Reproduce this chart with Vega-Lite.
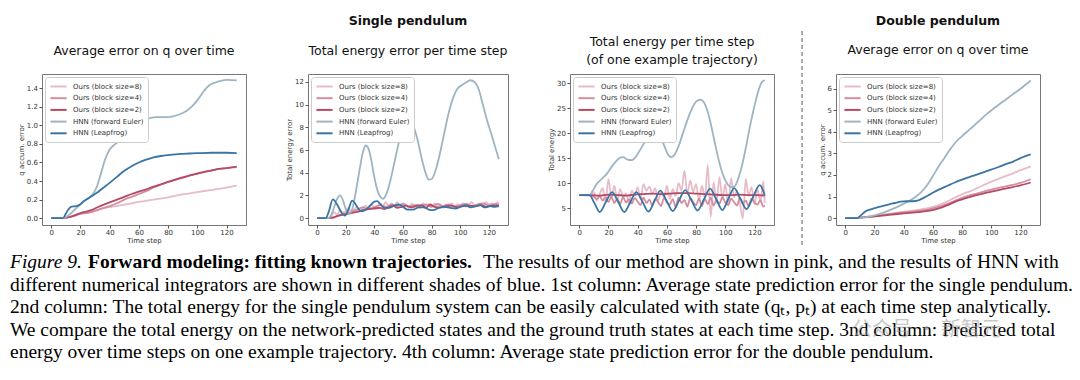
{
"$schema": "https://vega.github.io/schema/vega-lite/v6.json",
"background": "white",
"padding": {"left": 10, "top": 14, "right": 0, "bottom": 0},
"config": {
 "view": {"stroke": "#777777", "strokeWidth": 1},
 "font": "DejaVu Sans",
 "title": {"font": "DejaVu Sans", "fontSize": 12.5, "fontWeight": "normal", "color": "#111111", "anchor": "middle", "subtitleFont": "DejaVu Sans", "subtitleFontSize": 12.5, "subtitleColor": "#111111", "subtitleFontWeight": "normal"},
 "axis": {"labelFont": "DejaVu Sans", "labelFontSize": 7, "labelColor": "#333333", "titleFont": "DejaVu Sans", "titleFontSize": 7, "titleFontWeight": "normal", "titleColor": "#333333", "tickColor": "#555555", "tickSize": 3, "domain": false, "grid": false, "labelPadding": 1.5, "titlePadding": 2},
 "axisX": {"labelPadding": 0.5, "titlePadding": 1},
 "legend": {"orient": "top-left", "offset": 3, "padding": 4, "strokeColor": "#cccccc", "fillColor": "white", "cornerRadius": 3, "labelFont": "DejaVu Sans", "labelFontSize": 7, "labelColor": "#333333", "symbolType": "M-1.8,0H1.8", "symbolSize": 81, "symbolStrokeWidth": 2, "symbolOffset": 4, "rowPadding": 1.7, "labelOffset": 9}
},
"datasets": {
 "p1": [
  {"t":0,"v":0,"s":"a"},{"t":8,"v":0,"s":"a"},{"t":12,"v":0.01,"s":"a"},{"t":16,"v":0.03,"s":"a"},{"t":20,"v":0.05,"s":"a"},{"t":25,"v":0.07,"s":"a"},{"t":30,"v":0.085,"s":"a"},{"t":35,"v":0.105,"s":"a"},{"t":40,"v":0.12,"s":"a"},{"t":50,"v":0.145,"s":"a"},{"t":60,"v":0.175,"s":"a"},{"t":70,"v":0.2,"s":"a"},{"t":80,"v":0.225,"s":"a"},{"t":90,"v":0.255,"s":"a"},{"t":100,"v":0.28,"s":"a"},{"t":110,"v":0.305,"s":"a"},{"t":120,"v":0.33,"s":"a"},{"t":127,"v":0.35,"s":"a"},
  {"t":0,"v":0,"s":"b"},{"t":8,"v":0,"s":"b"},{"t":12,"v":0.01,"s":"b"},{"t":16,"v":0.025,"s":"b"},{"t":20,"v":0.045,"s":"b"},{"t":24,"v":0.055,"s":"b"},{"t":28,"v":0.065,"s":"b"},{"t":32,"v":0.09,"s":"b"},{"t":36,"v":0.11,"s":"b"},{"t":40,"v":0.13,"s":"b"},{"t":45,"v":0.16,"s":"b"},{"t":50,"v":0.2,"s":"b"},{"t":55,"v":0.23,"s":"b"},{"t":60,"v":0.26,"s":"b"},{"t":65,"v":0.29,"s":"b"},{"t":70,"v":0.33,"s":"b"},{"t":75,"v":0.36,"s":"b"},{"t":80,"v":0.39,"s":"b"},{"t":85,"v":0.415,"s":"b"},{"t":90,"v":0.435,"s":"b"},{"t":95,"v":0.46,"s":"b"},{"t":100,"v":0.48,"s":"b"},{"t":105,"v":0.5,"s":"b"},{"t":110,"v":0.515,"s":"b"},{"t":115,"v":0.53,"s":"b"},{"t":120,"v":0.54,"s":"b"},{"t":127,"v":0.55,"s":"b"},
  {"t":0,"v":0,"s":"c"},{"t":8,"v":0,"s":"c"},{"t":12,"v":0.01,"s":"c"},{"t":16,"v":0.03,"s":"c"},{"t":20,"v":0.055,"s":"c"},{"t":24,"v":0.07,"s":"c"},{"t":28,"v":0.09,"s":"c"},{"t":32,"v":0.12,"s":"c"},{"t":36,"v":0.145,"s":"c"},{"t":40,"v":0.17,"s":"c"},{"t":45,"v":0.2,"s":"c"},{"t":50,"v":0.23,"s":"c"},{"t":55,"v":0.26,"s":"c"},{"t":60,"v":0.285,"s":"c"},{"t":65,"v":0.31,"s":"c"},{"t":70,"v":0.34,"s":"c"},{"t":75,"v":0.365,"s":"c"},{"t":80,"v":0.39,"s":"c"},{"t":85,"v":0.415,"s":"c"},{"t":90,"v":0.44,"s":"c"},{"t":95,"v":0.46,"s":"c"},{"t":100,"v":0.48,"s":"c"},{"t":105,"v":0.5,"s":"c"},{"t":110,"v":0.515,"s":"c"},{"t":115,"v":0.53,"s":"c"},{"t":120,"v":0.54,"s":"c"},{"t":127,"v":0.555,"s":"c"},
  {"t":0,"v":0,"s":"d"},{"t":8,"v":0,"s":"d"},{"t":12,"v":0.03,"s":"d"},{"t":16,"v":0.09,"s":"d"},{"t":20,"v":0.15,"s":"d"},{"t":24,"v":0.2,"s":"d"},{"t":28,"v":0.25,"s":"d"},{"t":31,"v":0.33,"s":"d"},{"t":34,"v":0.48,"s":"d"},{"t":37,"v":0.64,"s":"d"},{"t":40,"v":0.74,"s":"d"},{"t":44,"v":0.8,"s":"d"},{"t":48,"v":0.85,"s":"d"},{"t":52,"v":0.9,"s":"d"},{"t":56,"v":0.95,"s":"d"},{"t":60,"v":1.0,"s":"d"},{"t":64,"v":1.05,"s":"d"},{"t":68,"v":1.08,"s":"d"},{"t":72,"v":1.09,"s":"d"},{"t":76,"v":1.09,"s":"d"},{"t":80,"v":1.09,"s":"d"},{"t":84,"v":1.1,"s":"d"},{"t":88,"v":1.12,"s":"d"},{"t":92,"v":1.15,"s":"d"},{"t":96,"v":1.2,"s":"d"},{"t":100,"v":1.27,"s":"d"},{"t":104,"v":1.36,"s":"d"},{"t":108,"v":1.43,"s":"d"},{"t":112,"v":1.46,"s":"d"},{"t":116,"v":1.48,"s":"d"},{"t":120,"v":1.49,"s":"d"},{"t":127,"v":1.485,"s":"d"},
  {"t":0,"v":0,"s":"e"},{"t":8,"v":0,"s":"e"},{"t":10,"v":0.05,"s":"e"},{"t":12,"v":0.1,"s":"e"},{"t":14,"v":0.125,"s":"e"},{"t":17,"v":0.13,"s":"e"},{"t":19,"v":0.14,"s":"e"},{"t":22,"v":0.18,"s":"e"},{"t":25,"v":0.21,"s":"e"},{"t":28,"v":0.24,"s":"e"},{"t":31,"v":0.27,"s":"e"},{"t":35,"v":0.32,"s":"e"},{"t":40,"v":0.38,"s":"e"},{"t":45,"v":0.445,"s":"e"},{"t":50,"v":0.51,"s":"e"},{"t":55,"v":0.56,"s":"e"},{"t":60,"v":0.6,"s":"e"},{"t":65,"v":0.63,"s":"e"},{"t":70,"v":0.655,"s":"e"},{"t":75,"v":0.67,"s":"e"},{"t":80,"v":0.68,"s":"e"},{"t":85,"v":0.688,"s":"e"},{"t":90,"v":0.693,"s":"e"},{"t":95,"v":0.697,"s":"e"},{"t":100,"v":0.7,"s":"e"},{"t":110,"v":0.705,"s":"e"},{"t":120,"v":0.705,"s":"e"},{"t":127,"v":0.7,"s":"e"}
 ],
 "p2": [
  {"t":0,"v":0,"s":"a"},{"t":8,"v":0,"s":"a"},{"t":10,"v":0.2,"s":"a"},{"t":12,"v":0.5,"s":"a"},{"t":14,"v":0.3,"s":"a"},{"t":16,"v":0.7,"s":"a"},{"t":18,"v":0.5,"s":"a"},{"t":20,"v":0.6,"s":"a"},{"t":22,"v":0.9,"s":"a"},{"t":24,"v":0.5,"s":"a"},{"t":26,"v":0.8,"s":"a"},{"t":28,"v":1.0,"s":"a"},{"t":30,"v":0.6,"s":"a"},{"t":32,"v":0.9,"s":"a"},{"t":34,"v":1.1,"s":"a"},{"t":36,"v":0.8,"s":"a"},{"t":38,"v":1.2,"s":"a"},{"t":40,"v":1.0,"s":"a"},{"t":42,"v":0.9,"s":"a"},{"t":44,"v":1.3,"s":"a"},{"t":46,"v":1.1,"s":"a"},{"t":48,"v":1.4,"s":"a"},{"t":50,"v":1.0,"s":"a"},{"t":52,"v":1.3,"s":"a"},{"t":54,"v":1.1,"s":"a"},{"t":56,"v":1.4,"s":"a"},{"t":58,"v":1.0,"s":"a"},{"t":60,"v":1.3,"s":"a"},{"t":62,"v":1.2,"s":"a"},{"t":64,"v":0.9,"s":"a"},{"t":66,"v":1.3,"s":"a"},{"t":68,"v":1.1,"s":"a"},{"t":70,"v":1.2,"s":"a"},{"t":72,"v":0.9,"s":"a"},{"t":74,"v":1.3,"s":"a"},{"t":76,"v":1.1,"s":"a"},{"t":78,"v":1.2,"s":"a"},{"t":80,"v":1.0,"s":"a"},{"t":82,"v":1.3,"s":"a"},{"t":84,"v":1.1,"s":"a"},{"t":86,"v":1.2,"s":"a"},{"t":88,"v":0.9,"s":"a"},{"t":90,"v":1.2,"s":"a"},{"t":92,"v":1.1,"s":"a"},{"t":94,"v":1.3,"s":"a"},{"t":96,"v":1.0,"s":"a"},{"t":98,"v":1.2,"s":"a"},{"t":100,"v":1.1,"s":"a"},{"t":102,"v":1.3,"s":"a"},{"t":104,"v":1.0,"s":"a"},{"t":106,"v":1.2,"s":"a"},{"t":108,"v":1.4,"s":"a"},{"t":110,"v":1.1,"s":"a"},{"t":112,"v":1.2,"s":"a"},{"t":114,"v":1.3,"s":"a"},{"t":116,"v":1.1,"s":"a"},{"t":118,"v":1.4,"s":"a"},{"t":120,"v":1.2,"s":"a"},{"t":122,"v":1.3,"s":"a"},{"t":124,"v":1.1,"s":"a"},{"t":126,"v":1.4,"s":"a"},{"t":127,"v":1.2,"s":"a"},
  {"t":0,"v":0,"s":"b"},{"t":8,"v":0,"s":"b"},{"t":12,"v":0.05,"s":"b"},{"t":16,"v":0.3,"s":"b"},{"t":20,"v":0.4,"s":"b"},{"t":24,"v":0.55,"s":"b"},{"t":28,"v":0.75,"s":"b"},{"t":32,"v":0.95,"s":"b"},{"t":36,"v":0.8,"s":"b"},{"t":40,"v":0.95,"s":"b"},{"t":44,"v":1.15,"s":"b"},{"t":48,"v":1.0,"s":"b"},{"t":52,"v":1.2,"s":"b"},{"t":56,"v":1.05,"s":"b"},{"t":60,"v":1.25,"s":"b"},{"t":64,"v":1.0,"s":"b"},{"t":68,"v":1.15,"s":"b"},{"t":72,"v":1.05,"s":"b"},{"t":76,"v":1.2,"s":"b"},{"t":80,"v":1.0,"s":"b"},{"t":84,"v":1.25,"s":"b"},{"t":88,"v":1.05,"s":"b"},{"t":92,"v":1.2,"s":"b"},{"t":96,"v":1.0,"s":"b"},{"t":100,"v":1.15,"s":"b"},{"t":104,"v":1.25,"s":"b"},{"t":108,"v":1.05,"s":"b"},{"t":112,"v":1.2,"s":"b"},{"t":116,"v":1.3,"s":"b"},{"t":120,"v":1.1,"s":"b"},{"t":124,"v":1.25,"s":"b"},{"t":127,"v":1.2,"s":"b"},
  {"t":0,"v":0,"s":"c"},{"t":8,"v":0,"s":"c"},{"t":12,"v":0.1,"s":"c"},{"t":16,"v":0.25,"s":"c"},{"t":20,"v":0.35,"s":"c"},{"t":24,"v":0.45,"s":"c"},{"t":28,"v":0.55,"s":"c"},{"t":32,"v":0.7,"s":"c"},{"t":36,"v":0.8,"s":"c"},{"t":40,"v":0.85,"s":"c"},{"t":44,"v":0.9,"s":"c"},{"t":47,"v":0.8,"s":"c"},{"t":50,"v":0.95,"s":"c"},{"t":53,"v":1.1,"s":"c"},{"t":56,"v":0.9,"s":"c"},{"t":59,"v":1.0,"s":"c"},{"t":62,"v":1.1,"s":"c"},{"t":66,"v":0.95,"s":"c"},{"t":70,"v":1.1,"s":"c"},{"t":73,"v":1.15,"s":"c"},{"t":76,"v":0.9,"s":"c"},{"t":79,"v":1.2,"s":"c"},{"t":82,"v":1.0,"s":"c"},{"t":86,"v":0.95,"s":"c"},{"t":90,"v":1.05,"s":"c"},{"t":94,"v":1.1,"s":"c"},{"t":98,"v":0.95,"s":"c"},{"t":102,"v":1.05,"s":"c"},{"t":106,"v":1.1,"s":"c"},{"t":110,"v":1.05,"s":"c"},{"t":114,"v":1.15,"s":"c"},{"t":118,"v":1.0,"s":"c"},{"t":122,"v":1.1,"s":"c"},{"t":127,"v":1.1,"s":"c"},
  {"t":0,"v":0,"s":"d"},{"t":8,"v":0,"s":"d"},{"t":10,"v":0.3,"s":"d"},{"t":12,"v":1.0,"s":"d"},{"t":14,"v":1.7,"s":"d"},{"t":16,"v":2.0,"s":"d"},{"t":18,"v":1.6,"s":"d"},{"t":20,"v":0.8,"s":"d"},{"t":22,"v":0.35,"s":"d"},{"t":24,"v":0.6,"s":"d"},{"t":26,"v":1.6,"s":"d"},{"t":28,"v":3.0,"s":"d"},{"t":30,"v":4.5,"s":"d"},{"t":32,"v":5.8,"s":"d"},{"t":34,"v":6.4,"s":"d"},{"t":36,"v":6.1,"s":"d"},{"t":38,"v":5.0,"s":"d"},{"t":40,"v":3.6,"s":"d"},{"t":42,"v":2.5,"s":"d"},{"t":44,"v":1.9,"s":"d"},{"t":46,"v":1.7,"s":"d"},{"t":48,"v":2.0,"s":"d"},{"t":51,"v":3.2,"s":"d"},{"t":54,"v":4.9,"s":"d"},{"t":57,"v":6.6,"s":"d"},{"t":60,"v":7.8,"s":"d"},{"t":63,"v":8.5,"s":"d"},{"t":65,"v":8.55,"s":"d"},{"t":67,"v":8.2,"s":"d"},{"t":70,"v":7.0,"s":"d"},{"t":73,"v":5.3,"s":"d"},{"t":76,"v":3.9,"s":"d"},{"t":78,"v":3.4,"s":"d"},{"t":80,"v":3.45,"s":"d"},{"t":83,"v":4.3,"s":"d"},{"t":86,"v":5.8,"s":"d"},{"t":89,"v":7.6,"s":"d"},{"t":92,"v":9.3,"s":"d"},{"t":95,"v":10.6,"s":"d"},{"t":98,"v":11.4,"s":"d"},{"t":101,"v":11.7,"s":"d"},{"t":104,"v":11.95,"s":"d"},{"t":107,"v":12.15,"s":"d"},{"t":110,"v":12.0,"s":"d"},{"t":113,"v":11.3,"s":"d"},{"t":116,"v":9.9,"s":"d"},{"t":119,"v":8.5,"s":"d"},{"t":122,"v":7.3,"s":"d"},{"t":125,"v":6.0,"s":"d"},{"t":127,"v":5.2,"s":"d"},
  {"t":0,"v":0,"s":"e"},{"t":6,"v":0,"s":"e"},{"t":8,"v":0.5,"s":"e"},{"t":11,"v":1.65,"s":"e"},{"t":14,"v":1.2,"s":"e"},{"t":17,"v":0.5,"s":"e"},{"t":19.5,"v":0.22,"s":"e"},{"t":22,"v":0.8,"s":"e"},{"t":24.5,"v":1.55,"s":"e"},{"t":27,"v":1.2,"s":"e"},{"t":29,"v":0.8,"s":"e"},{"t":31.5,"v":0.6,"s":"e"},{"t":34,"v":0.75,"s":"e"},{"t":37,"v":1.1,"s":"e"},{"t":40,"v":1.45,"s":"e"},{"t":42,"v":1.5,"s":"e"},{"t":44,"v":1.25,"s":"e"},{"t":47,"v":0.9,"s":"e"},{"t":50,"v":0.9,"s":"e"},{"t":54,"v":1.1,"s":"e"},{"t":57,"v":1.2,"s":"e"},{"t":60,"v":1.0,"s":"e"},{"t":63,"v":0.75,"s":"e"},{"t":67,"v":0.75,"s":"e"},{"t":71,"v":0.95,"s":"e"},{"t":75,"v":0.95,"s":"e"},{"t":78,"v":0.75,"s":"e"},{"t":81,"v":0.7,"s":"e"},{"t":85,"v":0.9,"s":"e"},{"t":89,"v":1.0,"s":"e"},{"t":93,"v":0.9,"s":"e"},{"t":97,"v":0.85,"s":"e"},{"t":101,"v":1.05,"s":"e"},{"t":104,"v":1.15,"s":"e"},{"t":107,"v":0.95,"s":"e"},{"t":111,"v":1.05,"s":"e"},{"t":114,"v":1.15,"s":"e"},{"t":117,"v":0.95,"s":"e"},{"t":121,"v":1.05,"s":"e"},{"t":124,"v":1.0,"s":"e"},{"t":127,"v":1.05,"s":"e"}
 ],
 "p3": [
  {"t":0,"v":7.6,"s":"a"},{"t":8,"v":7.6,"s":"a"},{"t":10,"v":8.2,"s":"a"},{"t":12,"v":6.5,"s":"a"},{"t":14,"v":7.8,"s":"a"},{"t":16,"v":9.0,"s":"a"},{"t":18,"v":6.2,"s":"a"},{"t":20,"v":10.8,"s":"a"},{"t":22,"v":7.0,"s":"a"},{"t":24,"v":9.5,"s":"a"},{"t":26,"v":6.5,"s":"a"},{"t":28,"v":8.8,"s":"a"},{"t":30,"v":7.2,"s":"a"},{"t":32,"v":8.0,"s":"a"},{"t":34,"v":6.0,"s":"a"},{"t":36,"v":8.5,"s":"a"},{"t":38,"v":7.5,"s":"a"},{"t":40,"v":9.2,"s":"a"},{"t":42,"v":6.8,"s":"a"},{"t":44,"v":9.8,"s":"a"},{"t":46,"v":8.5,"s":"a"},{"t":48,"v":9.3,"s":"a"},{"t":50,"v":7.8,"s":"a"},{"t":52,"v":9.0,"s":"a"},{"t":54,"v":6.5,"s":"a"},{"t":56,"v":8.2,"s":"a"},{"t":58,"v":7.0,"s":"a"},{"t":60,"v":9.5,"s":"a"},{"t":62,"v":6.8,"s":"a"},{"t":64,"v":8.8,"s":"a"},{"t":66,"v":7.4,"s":"a"},{"t":68,"v":10.0,"s":"a"},{"t":70,"v":8.5,"s":"a"},{"t":72,"v":12.5,"s":"a"},{"t":74,"v":7.8,"s":"a"},{"t":76,"v":10.5,"s":"a"},{"t":78,"v":8.2,"s":"a"},{"t":80,"v":9.8,"s":"a"},{"t":82,"v":6.5,"s":"a"},{"t":84,"v":9.5,"s":"a"},{"t":86,"v":7.0,"s":"a"},{"t":88,"v":13.6,"s":"a"},{"t":90,"v":3.2,"s":"a"},{"t":92,"v":10.2,"s":"a"},{"t":94,"v":6.0,"s":"a"},{"t":96,"v":11.2,"s":"a"},{"t":98,"v":6.8,"s":"a"},{"t":100,"v":9.8,"s":"a"},{"t":102,"v":5.5,"s":"a"},{"t":104,"v":11.0,"s":"a"},{"t":106,"v":7.2,"s":"a"},{"t":108,"v":8.5,"s":"a"},{"t":110,"v":6.0,"s":"a"},{"t":112,"v":2.9,"s":"a"},{"t":114,"v":10.8,"s":"a"},{"t":116,"v":7.5,"s":"a"},{"t":118,"v":9.2,"s":"a"},{"t":120,"v":5.8,"s":"a"},{"t":122,"v":8.8,"s":"a"},{"t":124,"v":6.2,"s":"a"},{"t":126,"v":10.4,"s":"a"},{"t":127,"v":6.0,"s":"a"},
  {"t":0,"v":7.6,"s":"b"},{"t":8,"v":7.5,"s":"b"},{"t":10,"v":7.2,"s":"b"},{"t":12,"v":6.8,"s":"b"},{"t":14,"v":7.4,"s":"b"},{"t":16,"v":6.5,"s":"b"},{"t":18,"v":7.1,"s":"b"},{"t":20,"v":6.2,"s":"b"},{"t":22,"v":7.3,"s":"b"},{"t":24,"v":6.0,"s":"b"},{"t":26,"v":6.9,"s":"b"},{"t":28,"v":5.8,"s":"b"},{"t":30,"v":7.2,"s":"b"},{"t":32,"v":6.1,"s":"b"},{"t":34,"v":6.8,"s":"b"},{"t":36,"v":5.9,"s":"b"},{"t":38,"v":7.0,"s":"b"},{"t":40,"v":6.3,"s":"b"},{"t":42,"v":5.6,"s":"b"},{"t":44,"v":7.1,"s":"b"},{"t":46,"v":6.0,"s":"b"},{"t":48,"v":6.7,"s":"b"},{"t":50,"v":5.5,"s":"b"},{"t":52,"v":6.9,"s":"b"},{"t":54,"v":6.2,"s":"b"},{"t":56,"v":5.4,"s":"b"},{"t":58,"v":7.0,"s":"b"},{"t":60,"v":6.1,"s":"b"},{"t":62,"v":5.7,"s":"b"},{"t":64,"v":6.8,"s":"b"},{"t":66,"v":5.2,"s":"b"},{"t":68,"v":7.1,"s":"b"},{"t":70,"v":6.0,"s":"b"},{"t":72,"v":6.6,"s":"b"},{"t":74,"v":5.3,"s":"b"},{"t":76,"v":7.0,"s":"b"},{"t":78,"v":6.2,"s":"b"},{"t":80,"v":5.6,"s":"b"},{"t":82,"v":6.9,"s":"b"},{"t":84,"v":5.4,"s":"b"},{"t":86,"v":6.8,"s":"b"},{"t":88,"v":5.8,"s":"b"},{"t":90,"v":7.1,"s":"b"},{"t":92,"v":5.5,"s":"b"},{"t":94,"v":6.6,"s":"b"},{"t":96,"v":5.9,"s":"b"},{"t":98,"v":7.2,"s":"b"},{"t":100,"v":6.1,"s":"b"},{"t":102,"v":5.6,"s":"b"},{"t":104,"v":6.9,"s":"b"},{"t":106,"v":6.2,"s":"b"},{"t":108,"v":5.5,"s":"b"},{"t":110,"v":7.0,"s":"b"},{"t":112,"v":6.0,"s":"b"},{"t":114,"v":6.5,"s":"b"},{"t":116,"v":5.4,"s":"b"},{"t":118,"v":6.9,"s":"b"},{"t":120,"v":6.1,"s":"b"},{"t":122,"v":5.7,"s":"b"},{"t":124,"v":6.6,"s":"b"},{"t":126,"v":5.3,"s":"b"},{"t":127,"v":5.5,"s":"b"},
  {"t":0,"v":7.6,"s":"c"},{"t":8,"v":7.6,"s":"c"},{"t":14,"v":7.5,"s":"c"},{"t":20,"v":7.7,"s":"c"},{"t":26,"v":7.6,"s":"c"},{"t":32,"v":7.5,"s":"c"},{"t":38,"v":7.7,"s":"c"},{"t":44,"v":7.8,"s":"c"},{"t":50,"v":7.9,"s":"c"},{"t":56,"v":7.8,"s":"c"},{"t":62,"v":7.9,"s":"c"},{"t":68,"v":8.0,"s":"c"},{"t":74,"v":8.0,"s":"c"},{"t":80,"v":7.9,"s":"c"},{"t":86,"v":7.8,"s":"c"},{"t":92,"v":7.7,"s":"c"},{"t":98,"v":7.6,"s":"c"},{"t":104,"v":7.6,"s":"c"},{"t":110,"v":7.7,"s":"c"},{"t":116,"v":7.6,"s":"c"},{"t":122,"v":7.6,"s":"c"},{"t":127,"v":7.5,"s":"c"},
  {"t":0,"v":7.6,"s":"d"},{"t":7,"v":7.6,"s":"d"},{"t":9,"v":8.4,"s":"d"},{"t":12,"v":9.8,"s":"d"},{"t":16,"v":11.0,"s":"d"},{"t":19,"v":11.9,"s":"d"},{"t":22,"v":13.2,"s":"d"},{"t":25,"v":14.3,"s":"d"},{"t":28,"v":15.1,"s":"d"},{"t":30,"v":15.2,"s":"d"},{"t":33,"v":14.7,"s":"d"},{"t":36,"v":14.6,"s":"d"},{"t":39,"v":15.4,"s":"d"},{"t":42,"v":16.8,"s":"d"},{"t":45,"v":18.3,"s":"d"},{"t":48,"v":19.4,"s":"d"},{"t":51,"v":19.9,"s":"d"},{"t":53,"v":20.0,"s":"d"},{"t":55,"v":19.5,"s":"d"},{"t":58,"v":17.6,"s":"d"},{"t":61,"v":15.6,"s":"d"},{"t":63,"v":15.2,"s":"d"},{"t":65,"v":15.6,"s":"d"},{"t":68,"v":17.4,"s":"d"},{"t":71,"v":20.0,"s":"d"},{"t":74,"v":22.6,"s":"d"},{"t":77,"v":24.8,"s":"d"},{"t":80,"v":26.3,"s":"d"},{"t":83,"v":26.7,"s":"d"},{"t":86,"v":25.8,"s":"d"},{"t":89,"v":23.2,"s":"d"},{"t":92,"v":19.2,"s":"d"},{"t":95,"v":15.2,"s":"d"},{"t":98,"v":12.0,"s":"d"},{"t":101,"v":10.0,"s":"d"},{"t":104,"v":9.2,"s":"d"},{"t":106,"v":9.3,"s":"d"},{"t":108,"v":10.2,"s":"d"},{"t":111,"v":13.0,"s":"d"},{"t":114,"v":17.0,"s":"d"},{"t":117,"v":21.5,"s":"d"},{"t":120,"v":25.5,"s":"d"},{"t":123,"v":28.8,"s":"d"},{"t":125,"v":30.2,"s":"d"},{"t":127,"v":30.6,"s":"d"},
  {"t":0,"v":7.6,"s":"e"},{"t":7,"v":7.6,"s":"e"},{"t":10.5,"v":5.9,"s":"e"},{"t":14,"v":4.2,"s":"e"},{"t":18.2,"v":6.2,"s":"e"},{"t":22.5,"v":8.2,"s":"e"},{"t":26.7,"v":6.2,"s":"e"},{"t":30.8,"v":4.2,"s":"e"},{"t":35,"v":6.2,"s":"e"},{"t":39.1,"v":8.2,"s":"e"},{"t":43.3,"v":6.25,"s":"e"},{"t":47.4,"v":4.3,"s":"e"},{"t":51.5,"v":6.4,"s":"e"},{"t":55.5,"v":8.5,"s":"e"},{"t":59.8,"v":6.45,"s":"e"},{"t":64,"v":4.4,"s":"e"},{"t":68.3,"v":6.5,"s":"e"},{"t":72.5,"v":8.6,"s":"e"},{"t":76.8,"v":6.55,"s":"e"},{"t":81,"v":4.5,"s":"e"},{"t":85.3,"v":6.7,"s":"e"},{"t":89.6,"v":8.9,"s":"e"},{"t":93.8,"v":6.75,"s":"e"},{"t":98,"v":4.6,"s":"e"},{"t":102,"v":6.8,"s":"e"},{"t":106.1,"v":9.0,"s":"e"},{"t":110.3,"v":6.9,"s":"e"},{"t":114.5,"v":4.8,"s":"e"},{"t":119,"v":7.2,"s":"e"},{"t":123.5,"v":9.6,"s":"e"},{"t":125.5,"v":8.8,"s":"e"},{"t":127,"v":7.5,"s":"e"}
 ],
 "p4": [
  {"t":0,"v":0,"s":"a"},{"t":8,"v":0,"s":"a"},{"t":12,"v":0.03,"s":"a"},{"t":20,"v":0.1,"s":"a"},{"t":30,"v":0.2,"s":"a"},{"t":40,"v":0.3,"s":"a"},{"t":50,"v":0.38,"s":"a"},{"t":58,"v":0.48,"s":"a"},{"t":64,"v":0.6,"s":"a"},{"t":70,"v":0.78,"s":"a"},{"t":75,"v":0.95,"s":"a"},{"t":80,"v":1.1,"s":"a"},{"t":85,"v":1.23,"s":"a"},{"t":90,"v":1.38,"s":"a"},{"t":97,"v":1.6,"s":"a"},{"t":105,"v":1.82,"s":"a"},{"t":112,"v":2.0,"s":"a"},{"t":120,"v":2.22,"s":"a"},{"t":127,"v":2.4,"s":"a"},
  {"t":0,"v":0,"s":"b"},{"t":8,"v":0,"s":"b"},{"t":12,"v":0.03,"s":"b"},{"t":20,"v":0.08,"s":"b"},{"t":30,"v":0.18,"s":"b"},{"t":40,"v":0.26,"s":"b"},{"t":50,"v":0.33,"s":"b"},{"t":58,"v":0.42,"s":"b"},{"t":64,"v":0.52,"s":"b"},{"t":70,"v":0.66,"s":"b"},{"t":75,"v":0.8,"s":"b"},{"t":80,"v":0.94,"s":"b"},{"t":85,"v":1.05,"s":"b"},{"t":90,"v":1.14,"s":"b"},{"t":97,"v":1.27,"s":"b"},{"t":105,"v":1.4,"s":"b"},{"t":112,"v":1.5,"s":"b"},{"t":120,"v":1.63,"s":"b"},{"t":127,"v":1.8,"s":"b"},
  {"t":0,"v":0,"s":"c"},{"t":8,"v":0,"s":"c"},{"t":12,"v":0.03,"s":"c"},{"t":20,"v":0.08,"s":"c"},{"t":30,"v":0.15,"s":"c"},{"t":40,"v":0.22,"s":"c"},{"t":50,"v":0.28,"s":"c"},{"t":58,"v":0.35,"s":"c"},{"t":64,"v":0.45,"s":"c"},{"t":70,"v":0.6,"s":"c"},{"t":75,"v":0.75,"s":"c"},{"t":80,"v":0.87,"s":"c"},{"t":85,"v":0.97,"s":"c"},{"t":90,"v":1.07,"s":"c"},{"t":97,"v":1.18,"s":"c"},{"t":105,"v":1.3,"s":"c"},{"t":112,"v":1.4,"s":"c"},{"t":120,"v":1.52,"s":"c"},{"t":127,"v":1.65,"s":"c"},
  {"t":0,"v":0,"s":"d"},{"t":8,"v":0,"s":"d"},{"t":12,"v":0.03,"s":"d"},{"t":16,"v":0.07,"s":"d"},{"t":20,"v":0.13,"s":"d"},{"t":25,"v":0.23,"s":"d"},{"t":30,"v":0.36,"s":"d"},{"t":35,"v":0.5,"s":"d"},{"t":40,"v":0.66,"s":"d"},{"t":44,"v":0.8,"s":"d"},{"t":48,"v":0.98,"s":"d"},{"t":52,"v":1.2,"s":"d"},{"t":56,"v":1.52,"s":"d"},{"t":60,"v":1.95,"s":"d"},{"t":64,"v":2.4,"s":"d"},{"t":68,"v":2.8,"s":"d"},{"t":72,"v":3.2,"s":"d"},{"t":76,"v":3.55,"s":"d"},{"t":80,"v":3.8,"s":"d"},{"t":85,"v":4.1,"s":"d"},{"t":90,"v":4.4,"s":"d"},{"t":97,"v":4.83,"s":"d"},{"t":104,"v":5.2,"s":"d"},{"t":110,"v":5.5,"s":"d"},{"t":115,"v":5.75,"s":"d"},{"t":120,"v":6.0,"s":"d"},{"t":127,"v":6.38,"s":"d"},
  {"t":0,"v":0,"s":"e"},{"t":8,"v":0,"s":"e"},{"t":11,"v":0.15,"s":"e"},{"t":14,"v":0.32,"s":"e"},{"t":18,"v":0.42,"s":"e"},{"t":22,"v":0.5,"s":"e"},{"t":26,"v":0.57,"s":"e"},{"t":30,"v":0.64,"s":"e"},{"t":34,"v":0.7,"s":"e"},{"t":38,"v":0.76,"s":"e"},{"t":42,"v":0.78,"s":"e"},{"t":46,"v":0.78,"s":"e"},{"t":50,"v":0.82,"s":"e"},{"t":54,"v":0.95,"s":"e"},{"t":58,"v":1.1,"s":"e"},{"t":62,"v":1.25,"s":"e"},{"t":66,"v":1.38,"s":"e"},{"t":70,"v":1.5,"s":"e"},{"t":75,"v":1.65,"s":"e"},{"t":80,"v":1.78,"s":"e"},{"t":85,"v":1.9,"s":"e"},{"t":90,"v":2.02,"s":"e"},{"t":95,"v":2.13,"s":"e"},{"t":100,"v":2.25,"s":"e"},{"t":105,"v":2.37,"s":"e"},{"t":110,"v":2.5,"s":"e"},{"t":115,"v":2.62,"s":"e"},{"t":120,"v":2.78,"s":"e"},{"t":127,"v":2.95,"s":"e"}
 ],
 "sep": [{"t": -29.6, "y1": -1.25, "y2": 8.7}],
 "capItalic": [{"x": 0, "line": 0, "text": "Figure 9."}],
 "capBold": [{"x": 78, "line": 0, "text": "Forward modeling: fitting known trajectories."}],
 "capPlain": [
  {"x": 473, "line": 0, "text": "The results of our method are shown in pink, and the results of HNN with"},
  {"x": 0, "line": 1, "text": "different numerical integrators are shown in different shades of blue. 1st column: Average state prediction error for the single pendulum."},
  {"x": 0, "line": 2, "text": "2nd column: The total energy for the single pendulum system can be easily calculated with state (qₜ, pₜ) at each time step analytically."},
  {"x": 0, "line": 3, "text": "We compare the total energy on the network-predicted states and the ground truth states at each time step. 3nd column: Predicted total"},
  {"x": 0, "line": 4, "text": "energy over time steps on one example trajectory. 4th column: Average state prediction error for the double pendulum."}
 ],
 "mark": [{"x": 842, "line": 3, "text": "公众号 · 新智元"}]
},
"vconcat": [
 {
  "hconcat": [
   {
    "width": 204, "height": 151,
    "title": {"text": "Average error on q over time", "offset": 17},
    "data": {"name": "p1"},
    "mark": {"type": "line", "interpolate": "monotone", "strokeWidth": 1.8},
    "encoding": {
     "x": {"field": "t", "type": "quantitative", "scale": {"domain": [-6.35, 133.35], "nice": false, "zero": false}, "axis": {"values": [0, 20, 40, 60, 80, 100, 120], "title": "Time step"}},
     "y": {"field": "v", "type": "quantitative", "scale": {"domain": [-0.074, 1.554], "nice": false, "zero": false}, "axis": {"values": [0, 0.2, 0.4, 0.6, 0.8, 1.0, 1.2, 1.4], "format": ".1f", "title": "q accum. error"}},
     "color": {"field": "s", "type": "nominal", "scale": {"domain": ["a", "b", "c", "d", "e"], "range": ["#e8bcc7", "#d38e9e", "#b44a65", "#9fb4c3", "#3b75a3"]}, "legend": {"title": null, "labelExpr": "datum.value=='a'?'Ours (block size=8)':datum.value=='b'?'Ours (block size=4)':datum.value=='c'?'Ours (block size=2)':datum.value=='d'?'HNN (forward Euler)':'HNN (Leapfrog)'"}}
    }
   },
   {
    "width": 200, "height": 151,
    "title": {"text": "Single pendulum", "fontWeight": "bold", "subtitle": "Total energy error per time step", "subtitlePadding": 17, "offset": 17},
    "data": {"name": "p2"},
    "mark": {"type": "line", "interpolate": "monotone", "strokeWidth": 1.8},
    "encoding": {
     "x": {"field": "t", "type": "quantitative", "scale": {"domain": [-6.35, 133.35], "nice": false, "zero": false}, "axis": {"values": [0, 20, 40, 60, 80, 100, 120], "title": "Time step"}},
     "y": {"field": "v", "type": "quantitative", "scale": {"domain": [-0.605, 12.7], "nice": false, "zero": false}, "axis": {"values": [0, 2, 4, 6, 8, 10, 12], "title": "Total energy error"}},
     "color": {"field": "s", "type": "nominal", "scale": {"domain": ["a", "b", "c", "d", "e"], "range": ["#e8bcc7", "#d38e9e", "#b44a65", "#9fb4c3", "#3b75a3"]}, "legend": {"title": null, "labelExpr": "datum.value=='a'?'Ours (block size=8)':datum.value=='b'?'Ours (block size=4)':datum.value=='c'?'Ours (block size=2)':datum.value=='d'?'HNN (forward Euler)':'HNN (Leapfrog)'"}}
    }
   },
   {
    "width": 204, "height": 151,
    "title": {"text": ["Total energy per time step", "(of one example trajectory)"], "lineHeight": 18, "offset": 8},
    "data": {"name": "p3"},
    "mark": {"type": "line", "interpolate": "monotone", "strokeWidth": 1.8},
    "encoding": {
     "x": {"field": "t", "type": "quantitative", "scale": {"domain": [-6.35, 133.35], "nice": false, "zero": false}, "axis": {"values": [0, 20, 40, 60, 80, 100, 120], "title": "Time step"}},
     "y": {"field": "v", "type": "quantitative", "scale": {"domain": [1.6, 31.85], "nice": false, "zero": false}, "axis": {"values": [5, 10, 15, 20, 25, 30], "title": "Total energy"}},
     "color": {"field": "s", "type": "nominal", "scale": {"domain": ["a", "b", "c", "d", "e"], "range": ["#e8bcc7", "#d38e9e", "#b44a65", "#9fb4c3", "#3b75a3"]}, "legend": {"title": null, "labelExpr": "datum.value=='a'?'Ours (block size=8)':datum.value=='b'?'Ours (block size=4)':datum.value=='c'?'Ours (block size=2)':datum.value=='d'?'HNN (forward Euler)':'HNN (Leapfrog)'"}}
    }
   },
   {
    "width": 204, "height": 151,
    "title": {"text": "Double pendulum", "fontWeight": "bold", "subtitle": "Average error on q over time", "subtitlePadding": 17, "offset": -27, "frame": "group"},
    "layer": [
     {
      "data": {"name": "sep"},
      "mark": {"type": "rule", "color": "#777777", "strokeWidth": 1.2, "strokeDash": [4, 3]},
      "encoding": {
       "x": {"field": "t", "type": "quantitative", "scale": {"domain": [-6.35, 133.35], "nice": false, "zero": false}, "axis": {"values": [0, 20, 40, 60, 80, 100, 120], "title": "Time step"}},
       "y": {"field": "y1", "type": "quantitative", "scale": {"domain": [-0.32, 6.68], "nice": false, "zero": false}, "axis": {"values": [0, 1, 2, 3, 4, 5, 6], "title": "q accum. error"}},
       "y2": {"field": "y2"}
      }
     },
     {
      "data": {"name": "p4"},
      "mark": {"type": "line", "interpolate": "monotone", "strokeWidth": 1.8},
      "encoding": {
       "x": {"field": "t", "type": "quantitative", "scale": {"domain": [-6.35, 133.35], "nice": false, "zero": false}, "axis": {"values": [0, 20, 40, 60, 80, 100, 120], "title": "Time step"}},
       "y": {"field": "v", "type": "quantitative", "scale": {"domain": [-0.32, 6.68], "nice": false, "zero": false}, "axis": {"values": [0, 1, 2, 3, 4, 5, 6], "title": "q accum. error"}},
       "color": {"field": "s", "type": "nominal", "scale": {"domain": ["a", "b", "c", "d", "e"], "range": ["#e8bcc7", "#d38e9e", "#b44a65", "#9fb4c3", "#3b75a3"]}, "legend": {"title": null, "labelExpr": "datum.value=='a'?'Ours (block size=8)':datum.value=='b'?'Ours (block size=4)':datum.value=='c'?'Ours (block size=2)':datum.value=='d'?'HNN (forward Euler)':'HNN (Leapfrog)'"}}
      }
     }
    ]
   }
  ],
  "spacing": 62,
  "bounds": "flush",
  "resolve": {"scale": {"color": "independent"}, "legend": {"color": "independent"}}
 },
 {
  "width": 1030, "height": 90,
  "view": {"stroke": null},
  "layer": [
   {
    "data": {"name": "capItalic"},
    "mark": {"type": "text", "font": "Liberation Serif", "fontSize": 19.5, "fontStyle": "italic", "align": "left", "baseline": "middle", "color": "black"},
    "encoding": {
     "x": {"field": "x", "type": "quantitative", "scale": {"domain": [32, 1062], "nice": false, "zero": false}, "axis": null},
     "y": {"field": "line", "type": "quantitative", "scale": {"domain": [4, 0], "nice": false, "zero": false}, "axis": null},
     "text": {"field": "text"}
    }
   },
   {
    "data": {"name": "capBold"},
    "mark": {"type": "text", "font": "Liberation Serif", "fontSize": 19.5, "fontWeight": "bold", "align": "left", "baseline": "middle", "color": "black"},
    "encoding": {
     "x": {"field": "x", "type": "quantitative", "scale": {"domain": [32, 1062], "nice": false, "zero": false}, "axis": null},
     "y": {"field": "line", "type": "quantitative", "scale": {"domain": [4, 0], "nice": false, "zero": false}, "axis": null},
     "text": {"field": "text"}
    }
   },
   {
    "data": {"name": "capPlain"},
    "mark": {"type": "text", "font": "Liberation Serif", "fontSize": 19.5, "align": "left", "baseline": "middle", "color": "black"},
    "encoding": {
     "x": {"field": "x", "type": "quantitative", "scale": {"domain": [32, 1062], "nice": false, "zero": false}, "axis": null},
     "y": {"field": "line", "type": "quantitative", "scale": {"domain": [4, 0], "nice": false, "zero": false}, "axis": null},
     "text": {"field": "text"}
    }
   },
   {
    "data": {"name": "mark"},
    "mark": {"type": "text", "font": "Noto Sans CJK SC", "fontSize": 20, "align": "left", "baseline": "middle", "color": "#9a9a9a", "opacity": 0.55},
    "encoding": {
     "x": {"field": "x", "type": "quantitative", "scale": {"domain": [32, 1062], "nice": false, "zero": false}, "axis": null},
     "y": {"field": "line", "type": "quantitative", "scale": {"domain": [4, 0], "nice": false, "zero": false}, "axis": null},
     "text": {"field": "text"}
    }
   }
  ]
 }
],
"spacing": 5,
"resolve": {"scale": {"color": "independent"}, "legend": {"color": "independent"}}
}
